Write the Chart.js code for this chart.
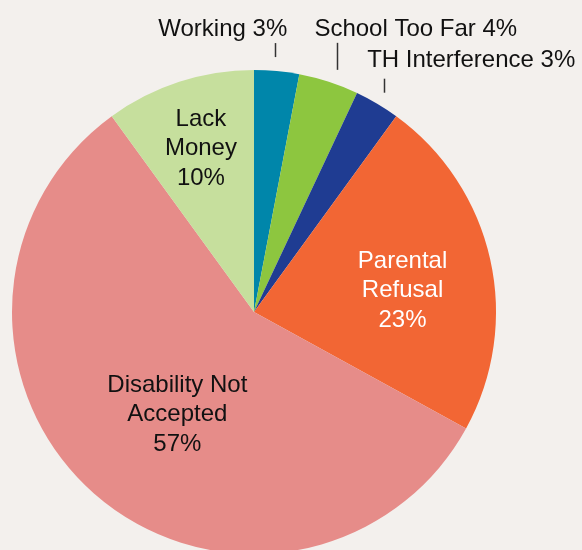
<!DOCTYPE html>
<html>
<head>
<meta charset="utf-8">
<script src="https://cdn.jsdelivr.net/npm/chart.js@4.4.1/dist/chart.umd.min.js"></script>
<style>
  html, body { margin: 0; padding: 0; background: #f3f0ed; }
  #wrap { width: 582px; height: 550px; }
</style>
</head>
<body>
<div id="wrap"><canvas id="reasons"></canvas></div>
<script>
// reasons children with disabilities are out of school (share of answers)
var categories = ['Working', 'School Too Far', 'TH Interference', 'Parental Refusal', 'Disability Not Accepted', 'Lack Money'];
var shares = [3, 4, 3, 23, 57, 10];
var labelLines = [['Working'], ['School Too Far'], ['TH Interference'], ['Parental', 'Refusal'], ['Disability Not', 'Accepted'], ['Lack', 'Money']];

var sliceColors = ['#0086aa', '#8dc63f', '#1f3c92', '#f26634', '#e68c89', '#c6df9d'];
var FONT = '24px "Liberation Sans", Arial, sans-serif';

// how each label sits: inside the slice (r = fraction of radius, turn = degrees)
// or outside with a small tick above the slice edge
var placement = [
  { out: true, tickDx: -2, tickGap: 14, tickLen: 14, textDx: -52, textDy: -7 },
  { out: true, tickDx: 8, tickGap: 12, tickLen: 27, textDx: 79, textDy: -7 },
  { out: true, tickDx: 7, tickGap: 11, tickLen: 14, textDx: 87, textDy: -12 },
  { r: 0.62, turn: 4.5, color: '#ffffff' },
  { r: 0.53, turn: -4.7, color: '#111111' },
  { r: 0.71, turn: 0, color: '#111111' }
];

var pieLabels = {
  id: 'pieLabels',
  afterDatasetsDraw: function(chart) {
    var ctx = chart.ctx;
    var arcs = chart.getDatasetMeta(0).data;
    ctx.save();
    ctx.font = FONT;
    ctx.textAlign = 'center';
    arcs.forEach(function(arc, i) {
      var p = arc.getProps(['x', 'y', 'startAngle', 'endAngle', 'outerRadius'], true);
      var mid = (p.startAngle + p.endAngle) / 2;
      var pl = placement[i];
      var lines = labelLines[i].slice();

      if (pl.out) {
        var ex = p.x + Math.cos(mid) * p.outerRadius + pl.tickDx;
        var ey = p.y + Math.sin(mid) * p.outerRadius;
        var top = ey - pl.tickGap - pl.tickLen;
        ctx.strokeStyle = '#333333';
        ctx.lineWidth = 1.5;
        ctx.beginPath();
        ctx.moveTo(Math.round(ex) + 0.5, ey - pl.tickGap);
        ctx.lineTo(Math.round(ex) + 0.5, top);
        ctx.stroke();
        ctx.fillStyle = '#111111';
        ctx.textBaseline = 'alphabetic';
        ctx.fillText(lines[0] + ' ' + shares[i] + '%', ex + pl.textDx, top + pl.textDy);
        return;
      }

      lines.push(shares[i] + '%');
      var a = mid + pl.turn * Math.PI / 180;
      var cx = p.x + Math.cos(a) * p.outerRadius * pl.r;
      var cy = p.y + Math.sin(a) * p.outerRadius * pl.r;
      var lh = 29.5;
      ctx.fillStyle = pl.color;
      ctx.textBaseline = 'middle';
      lines.forEach(function(t, k) {
        ctx.fillText(t, cx, cy + (k - (lines.length - 1) / 2) * lh);
      });
    });
    ctx.restore();
  }
};

new Chart(document.getElementById('reasons'), {
  type: 'pie',
  data: {
    labels: categories,
    datasets: [{
      data: shares,
      backgroundColor: sliceColors,
      borderWidth: 0,
      radius: 242
    }]
  },
  options: {
    responsive: true,
    maintainAspectRatio: false,
    animation: false,
    layout: { padding: { left: 12, right: 86, top: 74, bottom: 0 } },
    plugins: {
      legend: { display: false },
      tooltip: { enabled: false }
    }
  },
  plugins: [pieLabels]
});
</script>
</body>
</html>
